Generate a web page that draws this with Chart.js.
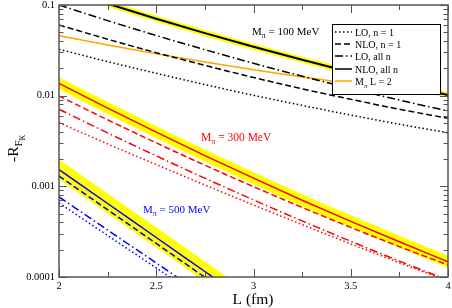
<!DOCTYPE html>
<html>
<head>
<meta charset="utf-8">
<script src="https://cdn.jsdelivr.net/npm/chart.js@4.4.0/dist/chart.umd.min.js"></script>
<style>
html, body { margin: 0; padding: 0; background: #fff; }
</style>
</head>
<body>
<canvas id="c" width="452" height="308"></canvas>
<script>
// box size L in fm
const L = [2, 2.25, 2.5, 2.75, 3, 3.25, 3.5, 3.75, 4];

// M_pi = 100 MeV
const k100_lo1    = [0.03246, 0.02375, 0.01765, 0.01325, 0.01009, 0.00781, 0.00611, 0.00484, 0.00390];
const k100_nlo1   = [0.06017, 0.04196, 0.02978, 0.02157, 0.01587, 0.01191, 0.00912, 0.00709, 0.00563];
const k100_loall  = [0.1, 0.0673, 0.04608, 0.03214, 0.02275, 0.01640, 0.01203, 0.00894, 0.00678];
const k100_nloall = [0.1545, 0.1035, 0.07062, 0.04898, 0.03459, 0.02486, 0.01815, 0.01348, 0.01017];
const k100_hi     = [0.1669, 0.1118, 0.0763, 0.0529, 0.03736, 0.02685, 0.0196, 0.01456, 0.01098];
const k100_lo     = [0.1431, 0.0958, 0.0654, 0.04535, 0.03203, 0.02302, 0.01681, 0.01248, 0.00942];

// M_pi = 300 MeV
const k300_lo1    = [0.005033, 0.002938, 0.001737, 0.001035, 0.0006226, 0.0003784, 0.0002318, 0.0001438, 0.0000901];
const k300_nlo1   = [0.00992, 0.005418, 0.003014, 0.001711, 0.000991, 0.0005857, 0.0003525, 0.0002165, 0.0001357];
const k300_loall  = [0.007075, 0.003886, 0.002166, 0.00123, 0.0007085, 0.0004158, 0.0002476, 0.0001497, 0.0000924];
const k300_nloall = [0.01369, 0.00729, 0.003955, 0.002183, 0.00123, 0.000703, 0.000411, 0.0002445, 0.0001475];
const k300_hi     = [0.01595, 0.00849, 0.004608, 0.002543, 0.001433, 0.000819, 0.000479, 0.000285, 0.000172];
const k300_lo     = [0.01175, 0.006258, 0.003395, 0.001874, 0.001056, 0.000603, 0.000353, 0.00021, 0.0001266];

// M_pi = 500 MeV (only L <= 3 is inside the plot)
const k500_lo1    = [0.000655, 0.000287, 0.0001257, 0.000055, 0.0000241];
const k500_nlo1   = [0.0013, 0.000552, 0.0002342, 0.0000994, 0.0000422];
const k500_loall  = [0.000763, 0.00033, 0.0001427, 0.0000617, 0.0000267];
const k500_nloall = [0.001533, 0.0006465, 0.0002727, 0.000115, 0.0000485];
const k500_hi     = [0.001976, 0.000833, 0.0003515, 0.0001482, 0.0000625];
const k500_lo     = [0.001189, 0.0005016, 0.0002116, 0.0000892, 0.0000376];

// M_pi L = 2
const mL2 = [0.04585, 0.03616, 0.02892, 0.02345, 0.01929, 0.01611, 0.01362, 0.01167, 0.01017];

const yTickLabels = ['0.0001', '0.001', '0.01', '0.1'];
const xTickLabels = ['2', '2.5', '3', '3.5', '4'];

const SERIF = "'Liberation Serif', 'Times New Roman', serif";
const DOT = [1.5, 2.5], DASH = [6, 3], DASHDOT = [8, 3, 1.5, 3];

function pts(ys) {
  return ys.map((v, i) => ({ x: L[i], y: v }));
}

function line(ys, color, dash, width) {
  return {
    data: pts(ys), borderColor: color, borderDash: dash, borderWidth: width || 1.5,
    pointRadius: 0, fill: false, cubicInterpolationMode: 'monotone', order: 1
  };
}

function band(hi, lo) {
  return [
    { data: pts(hi), borderWidth: 0, pointRadius: 0, backgroundColor: '#ffff00', fill: '+1', cubicInterpolationMode: 'monotone', order: 5 },
    { data: pts(lo), borderWidth: 0, pointRadius: 0, fill: false, cubicInterpolationMode: 'monotone', order: 6 }
  ];
}

function rich(ctx, x, y, segs, color) {
  ctx.fillStyle = color;
  ctx.textBaseline = 'alphabetic';
  ctx.textAlign = 'left';
  segs.forEach(s => {
    ctx.font = s[1] + 'px ' + SERIF;
    ctx.fillText(s[0], x, y + (s[2] || 0));
    x += ctx.measureText(s[0]).width;
  });
}

const decor = {
  id: 'decor',
  afterDatasetsDraw(chart) {
    const { ctx, chartArea: a, scales } = chart;
    const x = scales.x, y = scales.y;
    ctx.save();
    ctx.strokeStyle = '#555';
    ctx.lineWidth = 1;
    ctx.beginPath();
    for (let v = x.min; v <= x.max + 1e-9; v += 0.25) {
      const major = Math.abs(v * 2 - Math.round(v * 2)) < 1e-9;
      const len = major ? 8 : 5;
      const px = Math.round(x.getPixelForValue(v)) + 0.5;
      ctx.moveTo(px, a.bottom); ctx.lineTo(px, a.bottom - len);
      ctx.moveTo(px, a.top); ctx.lineTo(px, a.top + len);
    }
    for (let e = -4; e <= -1; e++) {
      for (let m = 1; m <= 9; m++) {
        const v = m * Math.pow(10, e);
        if (v > y.max * 1.0001) break;
        const len = m === 1 ? 8 : 4.5;
        const py = Math.round(y.getPixelForValue(v)) + 0.5;
        ctx.moveTo(a.left, py); ctx.lineTo(a.left + len, py);
        ctx.moveTo(a.right, py); ctx.lineTo(a.right - len, py);
      }
    }
    ctx.stroke();
    ctx.lineWidth = 1.5;
    ctx.strokeRect(a.left, a.top, a.right - a.left, a.bottom - a.top);

    // curve labels
    rich(ctx, 252, 35, [['M', 11], ['\u03c0', 8, 3], [' = 100 MeV', 11]], '#000');
    rich(ctx, 201, 141, [['M', 11.5], ['\u03c0', 8, 3], [' = 300 MeV', 11.5]], '#ff0000');
    rich(ctx, 143, 213, [['M', 11], ['\u03c0', 8, 3], [' = 500 MeV', 11]], '#0000ff');

    // legend
    const lx = 332, ly = 24, lw = 108, lh = 70;
    ctx.fillStyle = '#fff';
    ctx.fillRect(lx, ly, lw, lh);
    ctx.strokeStyle = '#000';
    ctx.lineWidth = 1;
    ctx.strokeRect(lx + 0.5, ly + 0.5, lw, lh);
    const items = [
      ['LO, n = 1', '#000', DOT, 32],
      ['NLO, n = 1', '#000', DASH, 44],
      ['LO, all n', '#000', DASHDOT, 56],
      ['NLO, all n', '#000', [], 69],
      [null, '#ffa500', [], 81]
    ];
    items.forEach(it => {
      ctx.strokeStyle = it[1];
      ctx.setLineDash(it[2]);
      ctx.lineWidth = 1.5;
      ctx.beginPath();
      ctx.moveTo(335, it[3]); ctx.lineTo(352, it[3]);
      ctx.stroke();
      ctx.setLineDash([]);
      if (it[0]) rich(ctx, 355, it[3] + 3.5, [[it[0], 10]], '#000');
      else rich(ctx, 355, it[3] + 3.5, [['M', 10], ['\u03c0', 7, 3], [' L = 2', 10]], '#000');
    });

    // axis titles
    ctx.font = '15.5px ' + SERIF;
    ctx.fillStyle = '#000';
    ctx.textAlign = 'center';
    ctx.fillText('L (fm)', 253, 304);
    ctx.save();
    ctx.translate(18, 162);
    ctx.rotate(-Math.PI / 2);
    rich(ctx, 0, 0, [['-R', 15.5], ['F', 11, 4], ['K', 8, 7]], '#000');
    ctx.restore();
    ctx.restore();
  }
};

new Chart(document.getElementById('c'), {
  type: 'line',
  data: {
    datasets: [
      line(k100_lo1, '#000', DOT),
      line(k100_nlo1, '#000', DASH),
      line(k100_loall, '#000', DASHDOT),
      line(k100_nloall, '#000', [], 2),
      line(mL2, '#ffa500', [], 1.5),
      line(k300_lo1, '#ff0000', DOT),
      line(k300_nlo1, '#ff0000', DASH),
      line(k300_loall, '#ff0000', DASHDOT),
      line(k300_nloall, '#ff0000', [], 1.5),
      line(k500_lo1, '#0000ff', DOT),
      line(k500_nlo1, '#0000ff', DASH),
      line(k500_loall, '#0000ff', DASHDOT),
      line(k500_nloall, '#0000ff', [], 1.5),
      ...band(k100_hi, k100_lo),
      ...band(k300_hi, k300_lo),
      ...band(k500_hi, k500_lo)
    ]
  },
  options: {
    responsive: false,
    animation: false,
    devicePixelRatio: 1,
    layout: { padding: { top: 5, right: 4, left: 0, bottom: 0 } },
    plugins: { legend: { display: false }, tooltip: { enabled: false } },
    scales: {
      x: {
        type: 'linear', min: 2, max: 4,
        grid: { display: false, drawTicks: false },
        border: { display: false },
        ticks: {
          stepSize: 0.5, padding: 3, maxRotation: 0, color: '#000',
          font: { family: SERIF, size: 10.5 },
          callback: (v) => xTickLabels[Math.round((v - 2) * 2)] || ''
        },
        afterFit(s) { s.height = 31; s.paddingLeft = 0; s.paddingRight = 0; }
      },
      y: {
        type: 'logarithmic', min: 0.0001, max: 0.1,
        grid: { display: false, drawTicks: false },
        border: { display: false },
        ticks: {
          autoSkip: false, padding: 4, color: '#000',
          font: { family: SERIF, size: 10.5 },
          callback: (v) => {
            const e = Math.log10(v);
            if (Math.abs(e - Math.round(e)) > 1e-6) return '';
            return yTickLabels[Math.round(e) + 4] || '';
          }
        },
        afterFit(s) { s.width = 59; s.paddingTop = 0; s.paddingBottom = 0; }
      }
    }
  },
  plugins: [decor]
});
</script>
</body>
</html>
